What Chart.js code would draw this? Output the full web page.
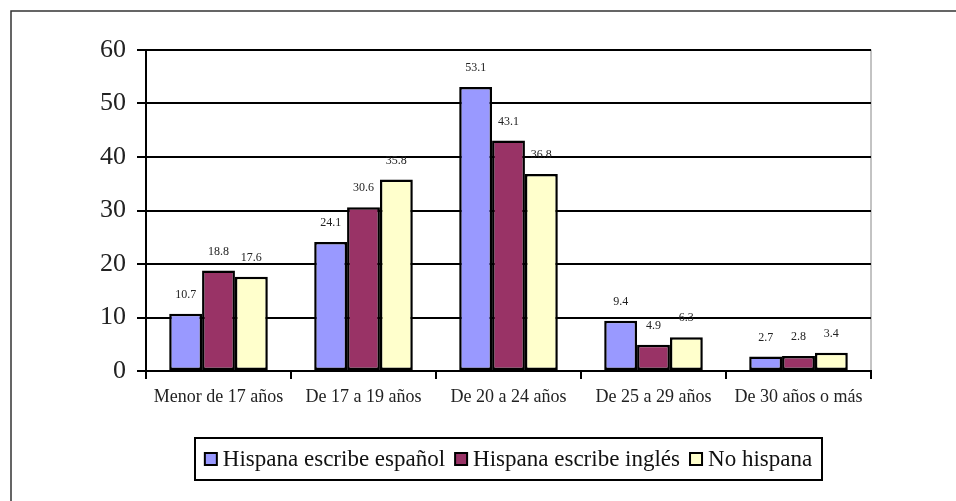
<!DOCTYPE html>
<html>
<head>
<meta charset="utf-8">
<script src="https://cdn.jsdelivr.net/npm/chart.js@4/dist/chart.umd.min.js"></script>
<style>
  html, body { margin: 0; padding: 0; background: #fff; }
  #wrap { width: 956px; height: 501px; position: relative; }
</style>
</head>
<body>
<div id="wrap"><canvas id="myChart" width="956" height="501"></canvas></div>
<script>
const categories = ["Menor de 17 años", "De 17 a 19 años", "De 20 a 24 años", "De 25 a 29 años", "De 30 años o más"];
const seriesNames = ["Hispana escribe español", "Hispana escribe inglés", "No hispana"];
const espanol = [10.7, 24.1, 53.1, 9.4, 2.7];
const ingles = [18.8, 30.6, 43.1, 4.9, 2.8];
const noHispana = [17.6, 35.8, 36.8, 6.3, 3.4];
const yTicks = [0, 10, 20, 30, 40, 50, 60];

const colors = ["#9999ff", "#993366", "#ffffcc"];
const serif = "'Liberation Serif', 'Times New Roman', serif";

// outer frame + plot area border
const framePlugin = {
  id: "frame",
  beforeDraw(chart) {
    const ctx = chart.ctx;
    const a = chart.chartArea;
    ctx.save();
    ctx.strokeStyle = "#333";
    ctx.lineWidth = 1.5;
    ctx.beginPath();
    ctx.moveTo(11, 501);
    ctx.lineTo(11, 11);
    ctx.lineTo(956, 11);
    ctx.stroke();
    ctx.strokeStyle = "#888";
    ctx.lineWidth = 1;
    ctx.strokeRect(a.left, a.top, a.right - a.left, a.bottom - a.top);
    ctx.restore();
  }
};

// value labels above bars
const valuePlugin = {
  id: "values",
  afterDatasetsDraw(chart) {
    const ctx = chart.ctx;
    ctx.save();
    ctx.font = "12px " + serif;
    ctx.fillStyle = "#222";
    ctx.textAlign = "center";
    ctx.textBaseline = "bottom";
    chart.data.datasets.forEach((ds, i) => {
      chart.getDatasetMeta(i).data.forEach((bar, j) => {
        ctx.fillText(ds.data[j].toFixed(1), bar.x, bar.y - 13);
      });
    });
    ctx.restore();
  }
};

// boxed legend under the chart
const legendPlugin = {
  id: "boxLegend",
  afterDraw(chart) {
    const ctx = chart.ctx;
    const box = { left: 195, top: 438, right: 822, bottom: 480 };
    ctx.save();
    ctx.strokeStyle = "#000";
    ctx.lineWidth = 2;
    ctx.strokeRect(box.left, box.top, box.right - box.left, box.bottom - box.top);
    ctx.font = "23px " + serif;
    ctx.textBaseline = "middle";
    ctx.fillStyle = "#111";
    const sq = 12, gap = 6, space = 10;
    const widths = seriesNames.map(t => ctx.measureText(t).width);
    let total = widths.reduce((s, w) => s + w + sq + gap, 0) + space * (seriesNames.length - 1);
    let x = (box.left + box.right) / 2 - total / 2;
    const cy = (box.top + box.bottom) / 2;
    seriesNames.forEach((t, i) => {
      ctx.fillStyle = colors[i];
      ctx.fillRect(x, cy - sq / 2, sq, sq);
      ctx.strokeStyle = "#000";
      ctx.lineWidth = 2;
      ctx.strokeRect(x, cy - sq / 2, sq, sq);
      x += sq + gap;
      ctx.fillStyle = "#111";
      ctx.fillText(t, x, cy + 1);
      x += widths[i] + space;
    });
    ctx.restore();
  }
};

const ctx = document.getElementById("myChart").getContext("2d");
new Chart(ctx, {
  type: "bar",
  data: {
    labels: categories,
    datasets: [espanol, ingles, noHispana].map((d, i) => ({
      label: seriesNames[i],
      data: d,
      backgroundColor: colors[i],
      borderColor: "#000",
      borderWidth: 2.5,
      borderSkipped: false,
      categoryPercentage: 0.68,
      barPercentage: 1.0,
    })),
  },
  options: {
    responsive: false,
    animation: false,
    layout: { padding: { left: 0, top: 50, right: 85, bottom: 90 } },
    plugins: {
      legend: { display: false },
      tooltip: { enabled: false },
    },
    scales: {
      x: {
        grid: { offset: true, drawOnChartArea: false, drawTicks: true, tickLength: 8, color: "#000", lineWidth: 2 },
        border: { display: true, color: "#000", width: 2 },
        ticks: { font: { family: serif, size: 18 }, color: "#222", padding: 7, maxRotation: 0 },
        afterFit: (s) => { s.height = 40; },
      },
      y: {
        min: 0,
        max: 60,
        afterBuildTicks: (s) => { s.ticks = yTicks.map(v => ({ value: v })); },
        grid: { color: "#000", lineWidth: 2, drawTicks: true, tickLength: 9 },
        border: { display: true, color: "#000", width: 2 },
        ticks: { font: { family: serif, size: 26 }, color: "#222", padding: 11 },
        afterFit: (s) => { s.width = 146; },
      },
    },
  },
  plugins: [framePlugin, valuePlugin, legendPlugin],
});
</script>
</body>
</html>
